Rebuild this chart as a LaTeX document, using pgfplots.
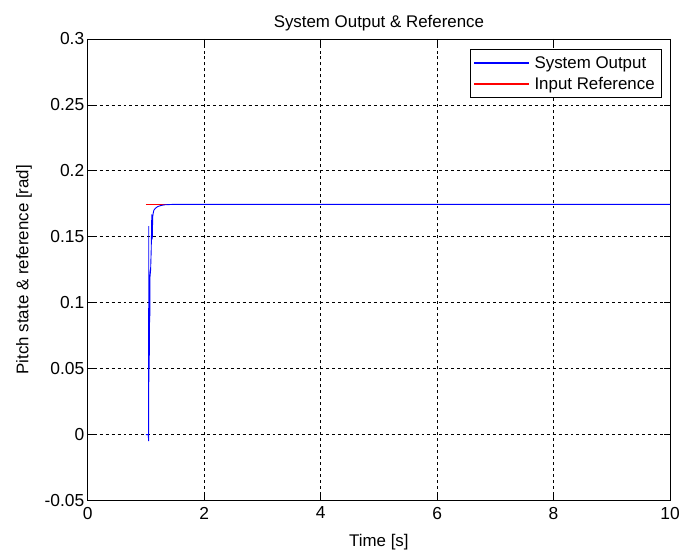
\documentclass[border=0pt]{standalone}
\usepackage{pgfplots}
\pgfplotsset{compat=1.18}
\usepackage{fontspec}
\setmainfont{Liberation Sans}
\begin{document}
\begin{tikzpicture}
\begin{axis}[
  scale only axis,
  width=584bp, height=463bp,
  xmin=0, xmax=10, ymin=-0.05, ymax=0.3,
  xtick={0,2,4,6,8,10},
  ytick={-0.05,0,0.05,0.1,0.15,0.2,0.25,0.3},
  yticklabels={-0.05,0,0.05,0.1,0.15,0.2,0.25,0.3},
  xticklabels={0,2,4,6,8,10},
  tick align=inside,
  major tick length=6bp,
  tick style={black, line width=0.6bp},
  axis line style={black, line width=0.7bp},
  grid=major,
  major grid style={black, dashed, line width=0.6bp},
  ticklabel style={font=\fontsize{17.5}{20}\selectfont},
  xticklabel style={yshift=-3bp},
  label style={font=\fontsize{17}{20}\selectfont},
  title style={font=\fontsize{17}{20}\selectfont, yshift=-2bp},
  title={System Output \& Reference},
  xlabel={Time [s]},
  ylabel={Pitch state \& reference [rad]},
  xlabel style={yshift=-8bp},
  ylabel style={yshift=6bp},
  legend style={at={(0.986,0.978)}, anchor=north east,
    font=\fontsize{17}{20}\selectfont, row sep=3.5bp, inner xsep=5bp, inner ysep=5bp},
  legend cell align=left,
  legend image code/.code={\fill[#1] (0bp,-0.55bp) rectangle (54bp,0.55bp); \path (58bp,0bp);},
]
\addlegendimage{draw=blue, fill=blue, line width=0bp}
\addlegendentry{System Output}
\addlegendimage{draw=red, fill=red, line width=0bp}
\addlegendentry{Input Reference}
\addplot[draw=red, line width=0.9bp, forget plot] coordinates {(1.0,0.1745) (10,0.1745)};
\addplot[draw=blue, line width=0.9bp, forget plot] coordinates {
(1.000,0) (1.040,0) (1.045,-0.005) (1.048,0.158) (1.050,0.04) (1.052,0.125)
(1.054,0.05) (1.056,0.118) (1.058,0.06) (1.060,0.12) (1.062,0.085) (1.064,0.116)
(1.066,0.09) (1.070,0.12) (1.080,0.125) (1.090,0.14) (1.100,0.167) (1.105,0.148)
(1.110,0.150) (1.115,0.165) (1.125,0.168) (1.135,0.170) (1.16,0.1715)
(1.20,0.1728) (1.25,0.1736) (1.32,0.1742) (1.45,0.1745) (10,0.1745)
};
\end{axis}
\pgfresetboundingbox
\path ([shift={(-88bp,-50bp)}]current axis.south west) rectangle ([shift={(10bp,39bp)}]current axis.north east);
\end{tikzpicture}
\end{document}
